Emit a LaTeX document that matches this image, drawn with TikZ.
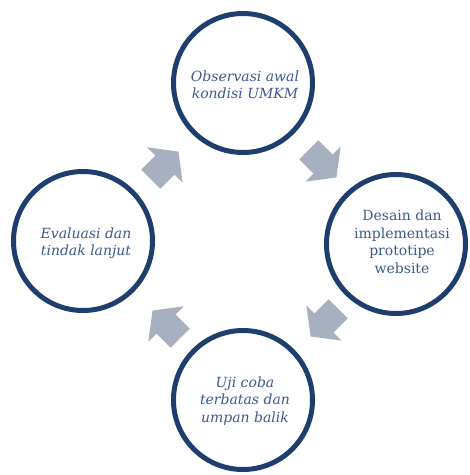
\documentclass[tikz,border=0pt]{standalone}
\usepackage{fontspec}
\setmainfont{DejaVu Serif}
\begin{document}
\begin{tikzpicture}[x=1pt,y=-1pt,
  ring/.style={circle,draw=ringblue,line width=5pt,minimum size=139pt,inner sep=0pt},
  label/.style={text=txtblue,align=center,font=\fontsize{14}{17.5}\selectfont},
  itlabel/.style={label,font=\fontsize{14}{17.5}\selectfont\itshape},
  flowarrow/.pic={\fill[arrowgray] (-20,-13.5) -- (0,-13.5) -- (0,-25) -- (19,0) -- (0,25) -- (0,13.5) -- (-20,13.5) -- cycle;}
]
\definecolor{ringblue}{HTML}{1E3F6E}
\definecolor{txtblue}{HTML}{3A5A8E}
\definecolor{arrowgray}{HTML}{A8AFBE}
\useasboundingbox (0,0) rectangle (470,475);
\node[ring] (top) at (243,83) {};
\node[ring] (right) at (396,244) {};
\node[ring] (bottom) at (243,400) {};
\node[ring] (left) at (83,241) {};
\node[itlabel] (ttop) at (245,85) {Observasi awal\\kondisi UMKM};
\node[label] (tright) at (402,242) {Desain dan\\implementasi\\prototipe\\website};
\node[itlabel] (tbottom) at (245,401) {Uji coba\\terbatas dan\\umpan balik};
\node[itlabel] (tleft) at (86,243) {Evaluasi dan\\tindak lanjut};
\pic[rotate=45] at (165,165) {flowarrow};
\pic[rotate=-45] at (323,164) {flowarrow};
\pic[rotate=-135] at (324,323) {flowarrow};
\pic[rotate=135] at (166,324) {flowarrow};
\end{tikzpicture}
\end{document}
